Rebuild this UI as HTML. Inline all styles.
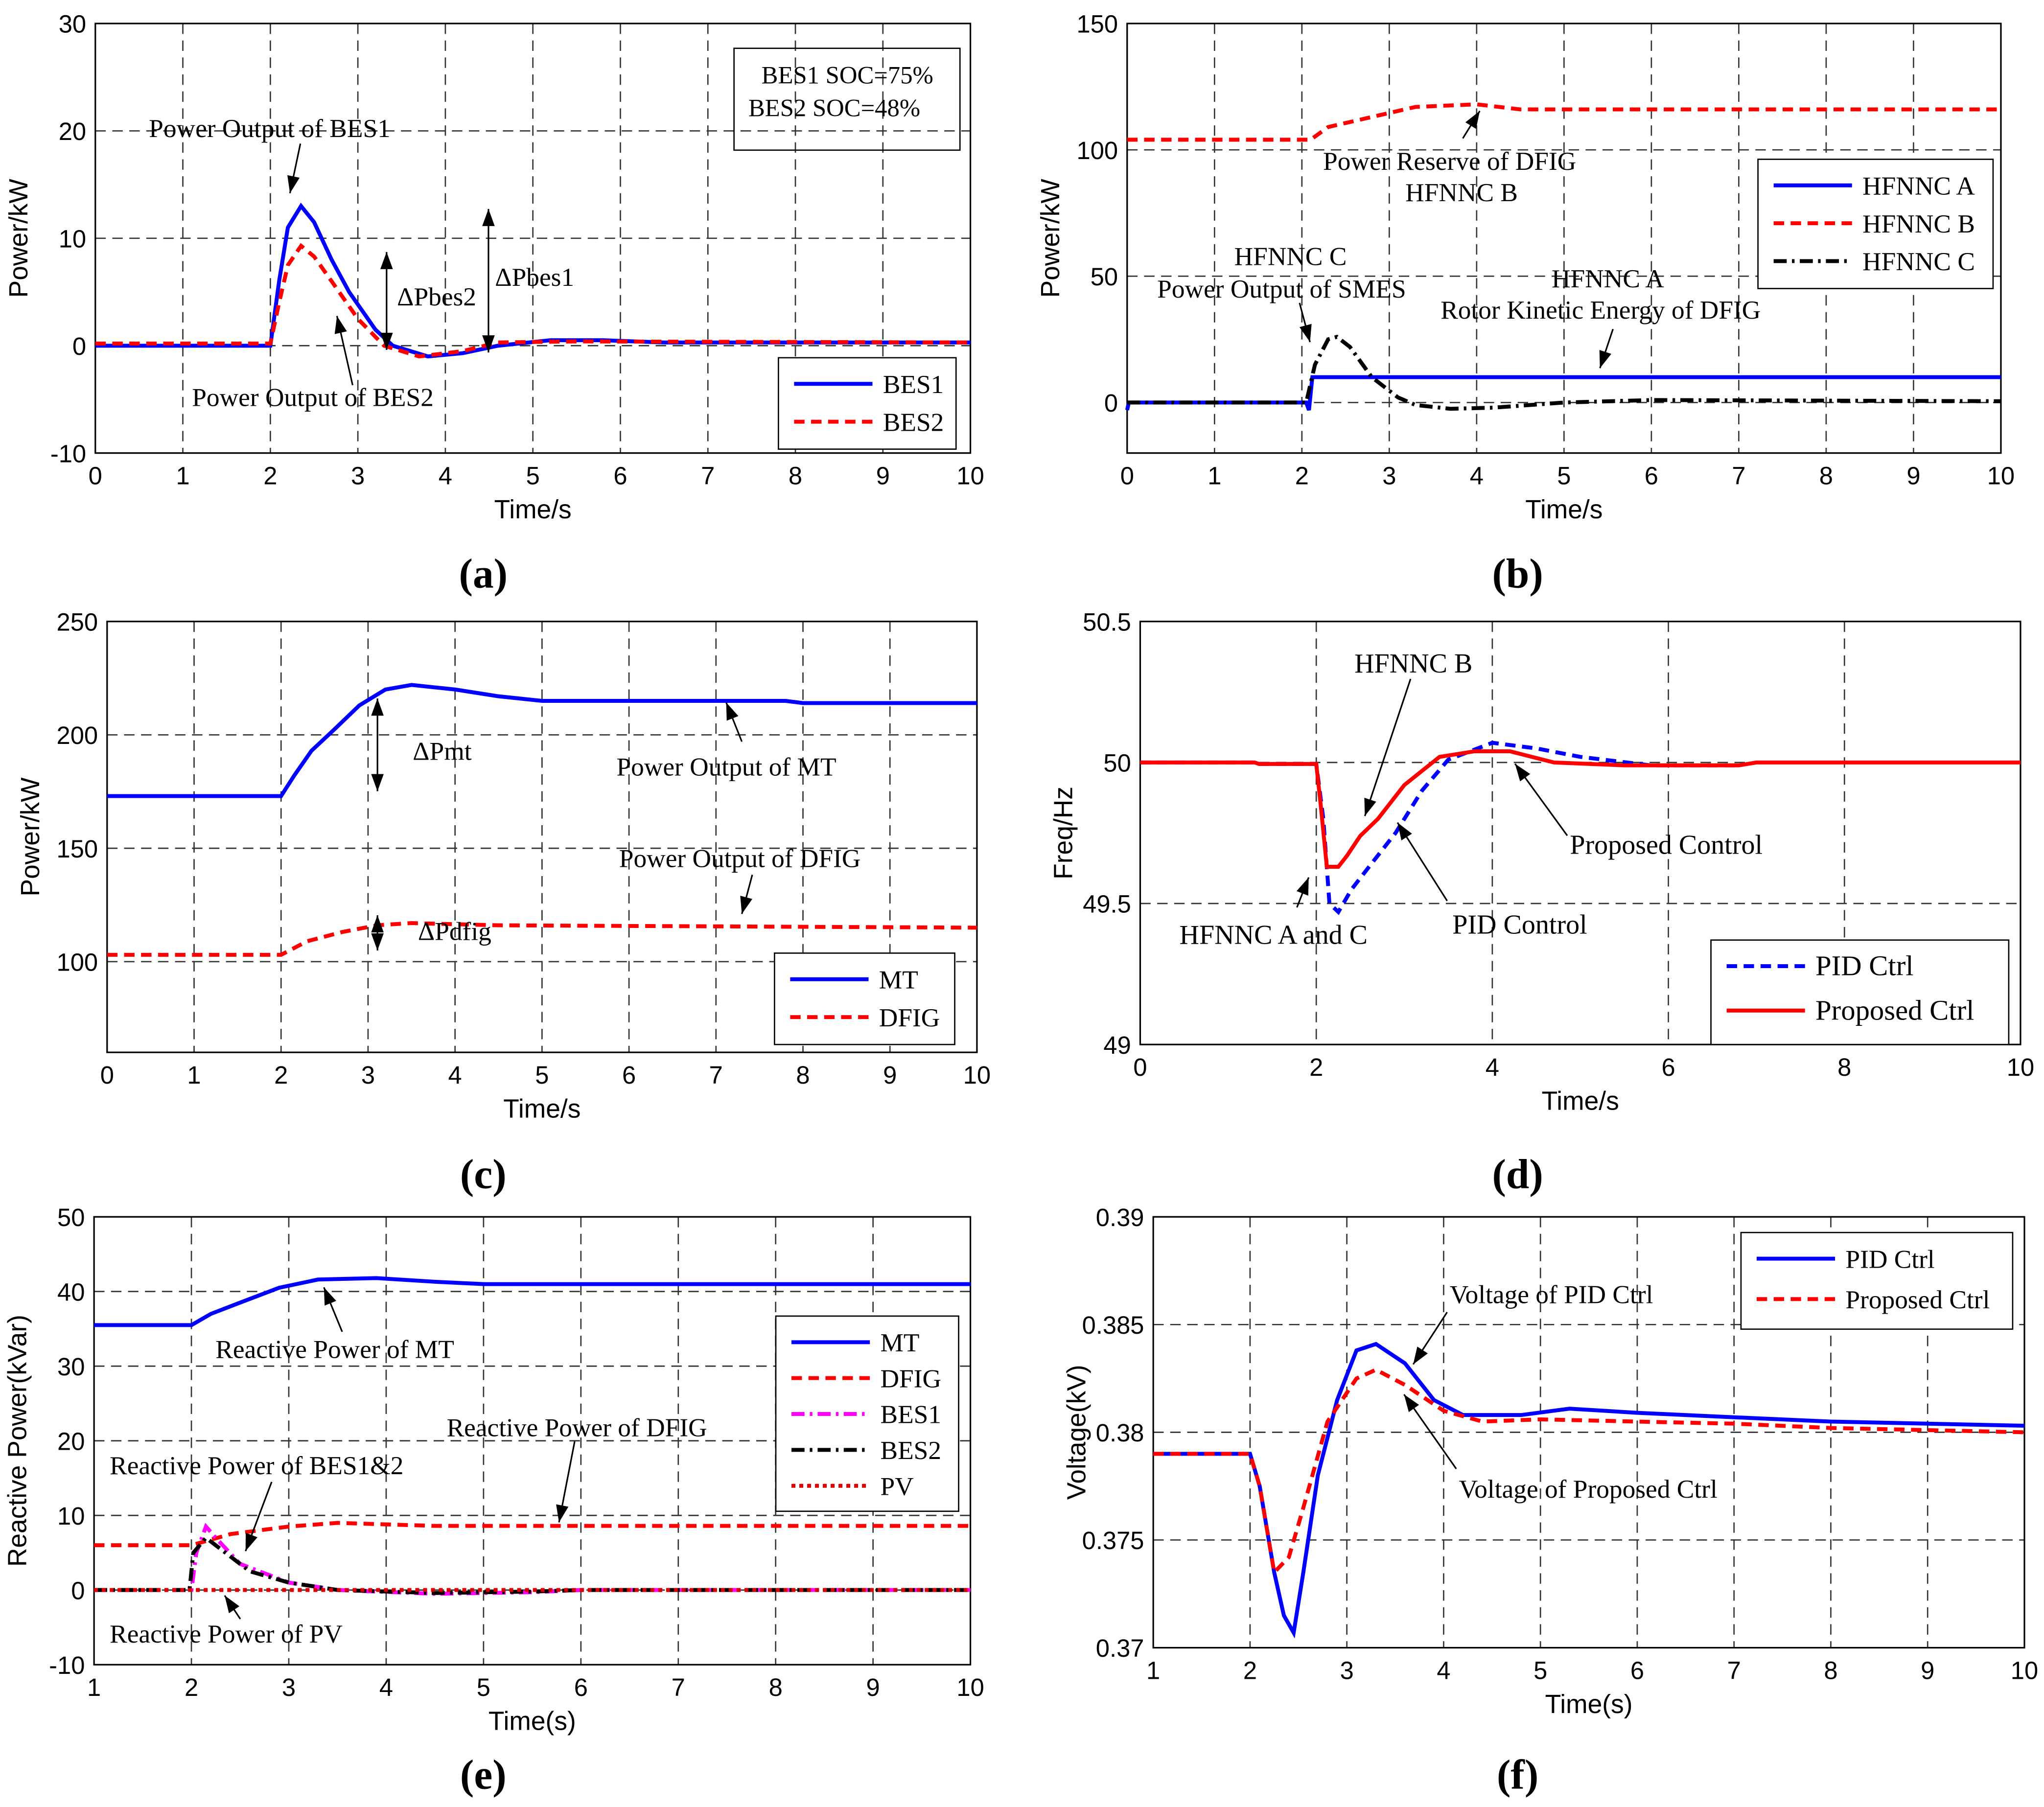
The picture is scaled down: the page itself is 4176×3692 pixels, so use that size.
<!DOCTYPE html>
<html><head><meta charset="utf-8"><style>
html,body{margin:0;padding:0;background:#fff}
svg{display:block}
</style></head><body>
<svg id="fig" xmlns="http://www.w3.org/2000/svg" width="4176" height="3692" viewBox="0 0 1565 1384" preserveAspectRatio="none"></svg>
<script>
// ---- data ----
const aBES1=[[0,0],[2,0],[2.1,6],[2.2,11],[2.35,13],[2.5,11.5],[2.7,8],[2.9,5],[3.2,1.5],[3.4,0],[3.8,-1],[4.2,-0.7],[4.6,0],[5.2,0.5],[5.8,0.5],[6.5,0.3],[10,0.3]];
const aBES2=[[0,0.2],[2,0.2],[2.1,4],[2.2,7.5],[2.35,9.3],[2.5,8.3],[2.7,6],[3,2.5],[3.3,0],[3.7,-1],[4.2,-0.5],[4.6,0.3],[5.5,0.4],[10,0.3]];
const bA=[[0,-3],[0.02,0],[2.05,0],[2.08,-3],[2.12,10],[10,10]];
const bB=[[0,104],[2.1,104],[2.3,109],[2.8,113],[3.3,117],[4,118],[4.5,116],[10,116]];
const bC=[[0,0],[2.05,0],[2.15,15],[2.3,25],[2.4,26],[2.55,22],[2.8,10],[3.1,2],[3.3,-1],[3.7,-2.5],[4.2,-2],[5,0],[6,1],[10,0.5]];
const cMT=[[0,173],[2,173],[2.15,182],[2.35,193],[2.6,202],[2.9,213],[3.2,220],[3.5,222],[4,220],[4.5,217],[5,215],[7.8,215],[8,214],[10,214]];
const cDF=[[0,103],[2,103],[2.3,109],[2.7,113],[3.1,116],[3.5,117],[4.5,116],[10,115]];
const dPID=[[0,50],[1.3,50],[1.35,49.995],[2,49.995],[2.08,49.8],[2.15,49.5],[2.25,49.47],[2.4,49.55],[2.6,49.63],[2.9,49.75],[3.2,49.9],[3.5,50.01],[4,50.07],[4.5,50.05],[5,50.02],[5.8,49.99],[6.8,49.99]];
const dPRO=[[0,50],[1.3,50],[1.35,49.995],[2,49.995],[2.05,49.85],[2.12,49.63],[2.25,49.63],[2.35,49.67],[2.5,49.74],[2.7,49.8],[3,49.92],[3.4,50.02],[3.8,50.04],[4.2,50.04],[4.7,50.0],[5.5,49.99],[6.8,49.99],[7,50],[10,50]];
const eMT=[[1,35.5],[2,35.5],[2.2,37],[2.5,38.5],[2.9,40.5],[3.3,41.6],[3.9,41.8],[4.5,41.3],[5,41],[10,41]];
const eDF=[[1,6],[2,6],[2.4,7.5],[3,8.5],[3.5,9],[4.5,8.6],[10,8.6]];
const eB1=[[1,0],[2,0],[2.05,5],[2.15,8.5],[2.25,7],[2.5,3.5],[3,1],[3.5,0],[4.5,-0.5],[5.5,-0.3],[6,0],[10,0]];
const eB2=[[1,0],[1.98,0],[2.02,5],[2.15,7],[2.3,5.5],[2.6,2.5],[3,1],[3.5,0],[4.5,-0.4],[5.5,-0.2],[6,0],[10,0]];
const ePV=[[1,0],[10,0]];
const fPID=[[1,0.379],[2,0.379],[2.1,0.3775],[2.25,0.3735],[2.35,0.3715],[2.45,0.3707],[2.55,0.3735],[2.7,0.378],[2.9,0.3815],[3.1,0.3838],[3.3,0.3841],[3.6,0.3832],[3.9,0.3815],[4.2,0.3808],[4.8,0.3808],[5.3,0.3811],[6,0.3809],[7,0.3807],[8,0.3805],[10,0.3803]];
const fPRO=[[1,0.379],[2,0.379],[2.1,0.3775],[2.25,0.3735],[2.4,0.3742],[2.55,0.3765],[2.8,0.3805],[3.1,0.3825],[3.3,0.3829],[3.6,0.3822],[4,0.381],[4.4,0.3805],[5,0.3806],[6,0.3805],[7,0.3804],[8,0.3802],[10,0.38]];
// ---- drawing ----
const svg=document.getElementById('fig');const NS='http://www.w3.org/2000/svg';
function el(t,a,txt){const e=document.createElementNS(NS,t);for(const k in a)e.setAttribute(k,a[k]);if(txt!==undefined)e.textContent=txt;svg.appendChild(e);return e;}
function panel(P){
 const sx=v=>P.x0+(v-P.xmin)/(P.xmax-P.xmin)*(P.x1-P.x0);
 const sy=v=>P.y1-(v-P.ymin)/(P.ymax-P.ymin)*(P.y1-P.y0);
 P.xt.forEach(v=>{const x=sx(v);
  if(v!==P.xmin&&v!==P.xmax){const g=el('line',{x1:x,x2:x,y1:P.y0,y2:P.y1,stroke:'#333','stroke-width':1,'stroke-dasharray':'8,5'});}
  const t=el('text',{x:x,y:P.y1+24,'font-size':19,'text-anchor':'middle','font-family':'Liberation Sans, sans-serif'},v);});
 P.yt.forEach(v=>{const y=sy(v);
  if(v!==P.ymin&&v!==P.ymax){const g=el('line',{x1:P.x0,x2:P.x1,y1:y,y2:y,stroke:'#333','stroke-width':1,'stroke-dasharray':'8,5'});}
  const t=el('text',{x:P.x0-7,y:y+7,'font-size':19,'text-anchor':'end','font-family':'Liberation Sans, sans-serif'},v);});
 const b=el('rect',{x:P.x0,y:P.y0,width:P.x1-P.x0,height:P.y1-P.y0,fill:'none',stroke:'#000','stroke-width':1.2});
 P.series.forEach(s=>{const p=el('polyline',{points:s.d.map(q=>sx(q[0]).toFixed(1)+','+sy(q[1]).toFixed(1)).join(' '),fill:'none',stroke:s.c,'stroke-width':s.w||3,'stroke-dasharray':s.dash||'none'});});
 const xl=el('text',{x:(P.x0+P.x1)/2,y:P.y1+50,'font-size':20,'text-anchor':'middle','font-family':'Liberation Sans, sans-serif'},P.xl);
 const yx=P.x0-52,yy=(P.y0+P.y1)/2;
 const yl=el('text',{x:yx,y:yy,'font-size':20,'text-anchor':'middle','font-family':'Liberation Sans, sans-serif',transform:`rotate(-90 ${yx} ${yy})`},P.yl);
 const cap=el('text',{x:P.cx,y:P.cy,'font-size':32,'font-weight':'bold','text-anchor':'middle','font-family':'Liberation Serif, serif'},'('+P.id+')');
 if(P.leg){const L=P.leg;const r=el('rect',{x:L.x,y:L.y,width:L.w,height:L.h*P.series.length+12,fill:'#fff',stroke:'#000','stroke-width':1});
  P.series.forEach((s,i)=>{const y=L.y+20+i*L.h;const ln=el('line',{x1:L.x+12,x2:L.x+72,y1:y,y2:y,stroke:s.c,'stroke-width':3,'stroke-dasharray':s.dash||'none'});
   const t=el('text',{x:L.x+80,y:y+7,'font-size':L.fs||20,'font-family':'Liberation Serif, serif'},s.label);});}
 (P.notes||[]).forEach(n=>{const t=el('text',{x:n[0],y:n[1],'font-size':n[3]||20,'font-family':'Liberation Serif, serif','text-anchor':n[4]||'start'},n[2]);});
 (P.arrows||[]).forEach(a=>{const l=el('line',{x1:a[0],y1:a[1],x2:a[2],y2:a[3],stroke:'#000','stroke-width':1.2});
  const ang=Math.atan2(a[3]-a[1],a[2]-a[0]),L=14,W=0.35;
  const hp=el('polygon',{points:`${a[2]},${a[3]} ${a[2]-L*Math.cos(ang-W)},${a[3]-L*Math.sin(ang-W)} ${a[2]-L*Math.cos(ang+W)},${a[3]-L*Math.sin(ang+W)}`,fill:'#000'});});
}
const R='#ff0000',B='#0000ff',D='8,5';
const T=[0,1,2,3,4,5,6,7,8,9,10];
panel({id:'a',x0:73,x1:743,y0:18,y1:347,xmin:0,xmax:10,ymin:-10,ymax:30,xt:T,yt:[-10,0,10,20,30],xl:'Time/s',yl:'Power/kW',cx:370,cy:450,
 series:[{n:'bes1',d:aBES1,c:B,label:'BES1'},{n:'bes2',d:aBES2,c:R,dash:D,label:'BES2'}],leg:{x:596,y:274,w:136,h:29},
 notes:[[583,64,'BES1 SOC=75%',19],[573,89,'BES2 SOC=48%',19],[114,105,'Power Output of BES1'],[147,311,'Power Output of BES2'],[304,234,'ΔPbes2'],[379,219,'ΔPbes1']],
 arrows:[[230,110,222,148],[270,295,258,242],[296,230,296,193],[296,230,296,268],[374,200,374,160],[374,200,374,270]]});
el('rect',{x:562,y:37,width:173,height:78,fill:'none',stroke:'#000','stroke-width':1});
panel({id:'b',x0:863,x1:1532,y0:18,y1:347,xmin:0,xmax:10,ymin:-20,ymax:150,xt:T,yt:[0,50,100,150],xl:'Time/s',yl:'Power/kW',cx:1162,cy:450,
 series:[{n:'hfnnc-a',d:bA,c:B,label:'HFNNC A'},{n:'hfnnc-b',d:bB,c:R,dash:D,label:'HFNNC B'},{n:'hfnnc-c',d:bC,c:'#000',dash:'10,4,2,4',label:'HFNNC C'}],leg:{x:1346,y:122,w:180,h:29},
 notes:[[1013,130,'Power Reserve of DFIG'],[1076,154,'HFNNC B'],[945,203,'HFNNC C'],[886,228,'Power Output of SMES'],[1188,220,'HFNNC A'],[1103,244,'Rotor Kinetic Energy of DFIG']],
 arrows:[[1120,106,1133,85],[995,232,1003,262],[1235,252,1225,282]]});
panel({id:'c',x0:82,x1:748,y0:476,y1:806,xmin:0,xmax:10,ymin:60,ymax:250,xt:T,yt:[100,150,200,250],xl:'Time/s',yl:'Power/kW',cx:370,cy:910,
 series:[{n:'mt',d:cMT,c:B,label:'MT'},{n:'dfig',d:cDF,c:R,dash:D,label:'DFIG'}],leg:{x:593,y:730,w:138,h:29},
 notes:[[316,582,'ΔPmt'],[320,720,'ΔPdfig'],[472,594,'Power Output of MT'],[474,664,'Power Output of DFIG']],
 arrows:[[289,570,289,535],[289,570,289,606],[289,712,289,701],[289,712,289,728],[568,568,556,538],[576,670,568,700]]});
panel({id:'d',x0:873,x1:1547,y0:476,y1:800,xmin:0,xmax:10,ymin:49,ymax:50.5,xt:[0,2,4,6,8,10],yt:[49,49.5,50,50.5],xl:'Time/s',yl:'Freq/Hz',cx:1162,cy:910,
 series:[{n:'pid',d:dPID,c:B,dash:D,label:'PID Ctrl'},{n:'proposed',d:dPRO,c:R,label:'Proposed Ctrl'}],leg:{x:1310,y:720,w:228,h:34,fs:22},
 notes:[[1037,515,'HFNNC B',21],[1202,654,'Proposed Control',21],[903,723,'HFNNC A and  C',21],[1112,715,'PID Control',21]],
 arrows:[[1080,520,1045,625],[1200,640,1160,585],[1108,690,1070,630],[993,695,1002,672]]});
panel({id:'e',x0:72,x1:743,y0:932,y1:1275,xmin:1,xmax:10,ymin:-10,ymax:50,xt:[1,2,3,4,5,6,7,8,9,10],yt:[-10,0,10,20,30,40,50],xl:'Time(s)',yl:'Reactive Power(kVar)',cx:370,cy:1370,
 series:[{n:'mt',d:eMT,c:B,label:'MT'},{n:'dfig',d:eDF,c:R,dash:D,label:'DFIG'},{n:'bes1',d:eB1,c:'#ff00ff',dash:'10,4,2,4',label:'BES1'},{n:'bes2',d:eB2,c:'#000',dash:'10,4,2,4',label:'BES2'},{n:'pv',d:ePV,c:'#dd0000',dash:'3,3',label:'PV'}],leg:{x:594,y:1008,w:140,h:27.5},
 notes:[[165,1040,'Reactive Power of MT'],[342,1100,'Reactive Power of DFIG'],[84,1129,'Reactive Power of BES1&2'],[84,1258,'Reactive Power of PV']],
 arrows:[[262,1020,248,986],[440,1104,428,1166],[208,1135,188,1188],[184,1240,172,1222]]});
panel({id:'f',x0:883,x1:1550,y0:932,y1:1262,xmin:1,xmax:10,ymin:0.37,ymax:0.39,xt:[1,2,3,4,5,6,7,8,9,10],yt:[0.37,0.375,0.38,0.385,0.39],xl:'Time(s)',yl:'Voltage(kV)',cx:1162,cy:1370,
 series:[{n:'pid',d:fPID,c:B,label:'PID Ctrl'},{n:'proposed',d:fPRO,c:R,dash:D,label:'Proposed Ctrl'}],leg:{x:1333,y:944,w:208,h:31},
 notes:[[1110,998,'Voltage of PID Ctrl'],[1117,1147,'Voltage of Proposed Ctrl']],
 arrows:[[1108,1005,1082,1045],[1115,1125,1075,1068]]});
</script>
</body></html>
